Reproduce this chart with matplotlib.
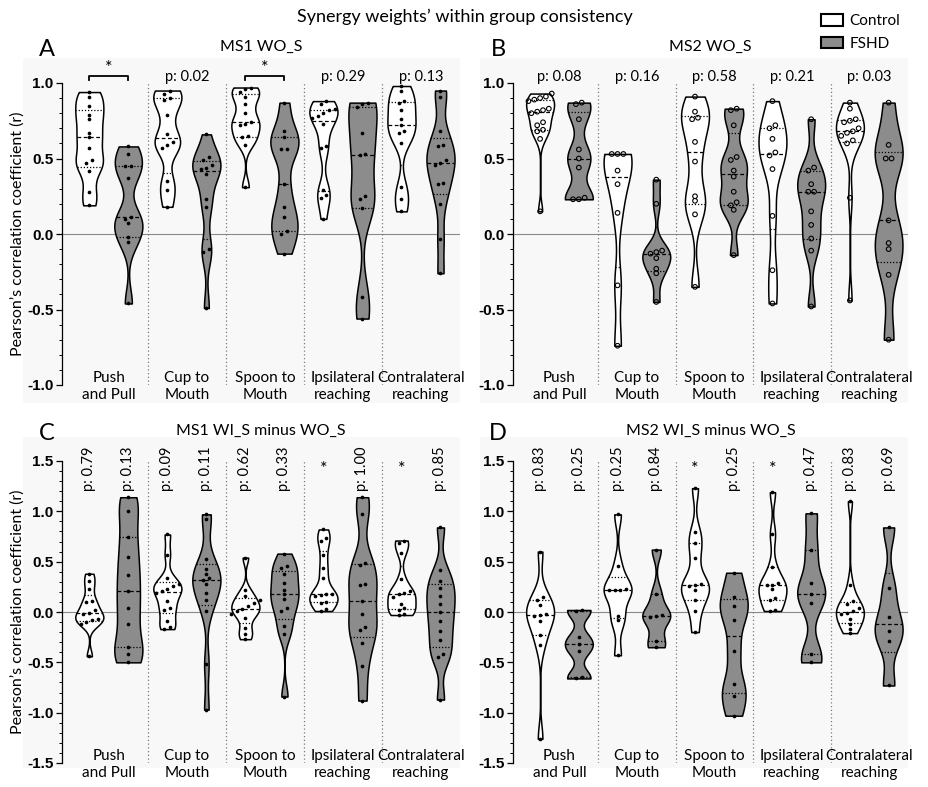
import numpy as np
import matplotlib
matplotlib.use("Agg")
import matplotlib.pyplot as plt
from matplotlib import cbook, mlab
from matplotlib.patches import Rectangle, Patch
from matplotlib.transforms import blended_transform_factory
from matplotlib.ticker import MultipleLocator

plt.rcParams['font.family'] = ['Lato', 'DejaVu Sans']

# ---------------------------------------------------------------- data
tasks = ['Push\nand Pull', 'Cup to\nMouth', 'Spoon to\nMouth',
         'Ipsilateral\nreaching', 'Contralateral\nreaching']

# MS1 without shoulder (r values per subject)
ms1_wo_control = [
    [0.94, 0.91, 0.85, 0.79, 0.76, 0.67, 0.64, 0.57, 0.49, 0.47, 0.42, 0.28, 0.19],
    [0.95, 0.93, 0.90, 0.89, 0.79, 0.66, 0.61, 0.59, 0.57, 0.35, 0.29, 0.18],
    [0.97, 0.96, 0.94, 0.91, 0.86, 0.80, 0.74, 0.73, 0.72, 0.65, 0.64, 0.59, 0.31],
    [0.88, 0.86, 0.83, 0.82, 0.80, 0.78, 0.77, 0.73, 0.58, 0.57, 0.29, 0.26, 0.24, 0.10],
    [0.98, 0.95, 0.88, 0.87, 0.82, 0.76, 0.72, 0.68, 0.67, 0.60, 0.31, 0.23, 0.15],
]
ms1_wo_fshd = [
    [0.58, 0.53, 0.45, 0.45, 0.37, 0.11, 0.10, 0.07, -0.02, -0.05, -0.46],
    [0.66, 0.51, 0.49, 0.46, 0.44, 0.43, 0.40, 0.23, 0.18, -0.10, -0.12, -0.49],
    [0.87, 0.68, 0.64, 0.56, 0.56, 0.33, 0.18, 0.11, 0.02, 0.00, -0.13],
    [0.87, 0.86, 0.84, 0.67, 0.53, 0.52, 0.25, 0.23, 0.17, -0.42, -0.56],
    [0.95, 0.91, 0.68, 0.59, 0.58, 0.49, 0.47, 0.46, 0.34, 0.33, 0.20, -0.03, -0.26],
]
ms1_wo_labels = ['*', 'p: 0.02', '*', 'p: 0.29', 'p: 0.13']

# MS2 without shoulder
ms2_wo_control = [
    [0.93, 0.91, 0.90, 0.89, 0.88, 0.83, 0.82, 0.81, 0.80, 0.74, 0.72, 0.69, 0.68, 0.63, 0.15],
    [0.53, 0.53, 0.53, 0.42, 0.33, 0.14, -0.34, -0.74],
    [0.91, 0.81, 0.77, 0.76, 0.61, 0.48, 0.25, 0.22, 0.13, -0.35],
    [0.88, 0.72, 0.70, 0.63, 0.54, 0.52, 0.43, 0.12, -0.24, -0.46],
    [0.87, 0.83, 0.76, 0.75, 0.74, 0.70, 0.68, 0.67, 0.65, 0.62, 0.60, 0.24, -0.44],
]
ms2_wo_fshd = [
    [0.87, 0.86, 0.76, 0.56, 0.50, 0.44, 0.24, 0.23, 0.23],
    [0.36, 0.20, -0.11, -0.12, -0.13, -0.16, -0.23, -0.26, -0.45],
    [0.83, 0.82, 0.72, 0.51, 0.49, 0.42, 0.38, 0.28, 0.21, 0.19, 0.16, -0.14],
    [0.76, 0.44, 0.42, 0.33, 0.28, 0.28, 0.15, 0.06, -0.03, -0.11, -0.48],
    [0.87, 0.59, 0.50, 0.50, 0.09, -0.06, -0.10, -0.27, -0.70],
]
ms2_wo_labels = ['p: 0.08', 'p: 0.16', 'p: 0.58', 'p: 0.21', 'p: 0.03']

# MS1 with shoulder minus without shoulder
ms1_diff_control = [
    [0.38, 0.31, 0.23, 0.11, 0.10, 0.02, -0.01, -0.02, -0.07, -0.08, -0.10, -0.12, -0.44],
    [0.77, 0.57, 0.34, 0.28, 0.26, 0.23, 0.21, 0.19, 0.11, 0.04, 0.02, -0.09, -0.15, -0.17],
    [0.54, 0.22, 0.16, 0.12, 0.09, 0.06, 0.03, 0.01, -0.02, -0.06, -0.16, -0.22, -0.27],
    [0.82, 0.74, 0.71, 0.57, 0.44, 0.34, 0.18, 0.18, 0.17, 0.16, 0.10, 0.09, 0.03, 0.01],
    [0.71, 0.69, 0.59, 0.33, 0.21, 0.19, 0.18, 0.15, 0.08, 0.04, 0.02, -0.02, -0.03],
]
ms1_diff_fshd = [
    [1.14, 1.00, 0.75, 0.55, 0.37, 0.21, 0.04, -0.12, -0.35, -0.42, -0.50],
    [0.97, 0.92, 0.53, 0.43, 0.38, 0.34, 0.32, 0.28, 0.19, 0.12, 0.01, -0.52, -0.97],
    [0.58, 0.46, 0.44, 0.38, 0.29, 0.22, 0.18, 0.13, 0.04, 0.01, -0.14, -0.22, -0.84],
    [1.14, 0.97, 0.49, 0.47, 0.28, 0.27, 0.11, -0.02, -0.15, -0.18, -0.31, -0.54, -0.88],
    [0.84, 0.42, 0.31, 0.24, 0.16, 0.08, 0.00, -0.09, -0.19, -0.28, -0.42, -0.45, -0.87],
]
ms1_diff_labels_control = ['p: 0.79', 'p: 0.09', 'p: 0.62', '*', '*']
ms1_diff_labels_fshd = ['p: 0.13', 'p: 0.11', 'p: 0.33', 'p: 1.00', 'p: 0.85']

# MS2 with shoulder minus without shoulder
ms2_diff_control = [
    [0.60, 0.15, 0.12, 0.07, -0.02, -0.03, -0.04, -0.09, -0.23, -0.33, -1.26],
    [0.97, 0.46, 0.23, 0.22, 0.22, 0.22, -0.04, -0.08, -0.43],
    [1.23, 0.79, 0.69, 0.54, 0.28, 0.27, 0.26, 0.22, 0.12, 0.01, -0.20],
    [1.19, 0.77, 0.45, 0.29, 0.27, 0.27, 0.23, 0.14, 0.12, 0.02, 0.01],
    [1.10, 0.27, 0.11, 0.08, 0.04, 0.01, -0.01, -0.02, -0.07, -0.12, -0.17, -0.21],
]
ms2_diff_fshd = [
    [0.02, 0.01, -0.25, -0.32, -0.39, -0.65, -0.66],
    [0.62, 0.18, -0.03, -0.04, -0.05, -0.29, -0.35],
    [0.39, 0.15, 0.06, -0.08, -0.39, -0.72, -0.83, -1.03],
    [0.98, 0.62, 0.29, 0.18, 0.09, -0.42, -0.50],
    [0.84, 0.24, -0.05, -0.19, -0.29, -0.73],
]
ms2_diff_labels_control = ['p: 0.83', 'p: 0.25', '*', '*', 'p: 0.83']
ms2_diff_labels_fshd = ['p: 0.25', 'p: 0.84', 'p: 0.25', 'p: 0.47', 'p: 0.69']

# ---------------------------------------------------------------- style
W, H = 929, 787
FSHD_GREY = '#8c8c8c'
PANEL_BG = '#f8f8f8'
VW = 0.36          # violin width (x units)
BW = 0.3           # KDE bandwidth factor
OFF = 0.25         # control / FSHD offset from task centre
TICK_FONT = dict(family=['Liberation Sans', 'DejaVu Sans'], weight='bold', size=11)

fig = plt.figure(figsize=(W / 100, H / 100), dpi=100)


def px_box(x0, y0, x1, y1):
    """Figure-fraction rectangle from pixel corners (top-left origin)."""
    return [x0 / W, 1 - y1 / H, (x1 - x0) / W, (y1 - y0) / H]


def kde(X, coords):
    return mlab.GaussianKDE(np.asarray(X), BW).evaluate(coords)


def spread(values, tol, step):
    """Side-by-side offsets for points whose values nearly coincide."""
    v = np.asarray(values, float)
    order = np.argsort(v)
    off = np.zeros(len(v))
    groups, cur = [], [order[0]]
    for i in order[1:]:
        if v[i] - v[cur[-1]] < tol:
            cur.append(i)
        else:
            groups.append(cur)
            cur = [i]
    groups.append(cur)
    for g in groups:
        k = len(g)
        for j, idx in enumerate(g):
            off[idx] = (j - (k - 1) / 2) * step
    return off


def draw_violin(ax, data, pos, face, hollow, tol):
    stats = cbook.violin_stats([data], kde, points=300)
    parts = ax.violin(stats, positions=[pos], widths=VW, showmeans=False,
                      showextrema=False, showmedians=False)
    body = parts['bodies'][0]
    body.set_facecolor(face)
    body.set_edgecolor('black')
    body.set_linewidth(1.1)
    body.set_alpha(1)
    body.set_zorder(2)
    st = stats[0]
    coords, dens = st['coords'], st['vals']

    def half(y):
        return 0.5 * VW * np.interp(y, coords, dens) / dens.max()

    q1, med, q3 = np.percentile(data, [25, 50, 75], method='weibull')
    for q, dash in ((q1, (1, 1.5)), (med, (3, 2)), (q3, (1, 1.5))):
        h = half(q)
        ax.plot([pos - h, pos + h], [q, q], color='black', lw=0.9,
                dashes=dash, zorder=3)
    xs = pos + spread(data, tol, 0.075)
    if hollow:
        ax.scatter(xs, data, s=11, facecolors='none', edgecolors='black',
                   linewidths=0.8, zorder=4)
    else:
        ax.scatter(xs, data, s=7, color='black', linewidths=0, zorder=4)


def setup_axes(box, lim, major):
    ax = fig.add_axes(px_box(*box))
    ax.patch.set_visible(False)
    ax.set_xlim(-0.6, 4.5)
    ax.set_ylim(-lim, lim)
    for s in ('top', 'right', 'bottom'):
        ax.spines[s].set_visible(False)
    ax.spines['left'].set_linewidth(0.9)
    ax.set_xticks([])
    ax.yaxis.set_minor_locator(MultipleLocator(0.1))
    ax.tick_params(axis='y', which='major', length=4, width=0.9, pad=2)
    ax.tick_params(axis='y', which='minor', length=2, width=0.7)
    ticks = np.arange(-lim, lim + 1e-9, major)
    ax.set_yticks(ticks)
    ax.set_yticklabels([f'{t:.1f}' for t in ticks], fontdict=TICK_FONT)
    ax.axhline(0, color='#8a8a8a', lw=0.8, zorder=1)
    ax.vlines([0.5, 1.5, 2.5, 3.5], -lim, lim, colors='#7a7a7a',
              linestyles=(0, (1, 2)), lw=0.9, zorder=1)
    trans = blended_transform_factory(ax.transData, ax.transAxes)
    for g, name in enumerate(tasks):
        ax.text(g, -0.005, name, transform=trans, ha='center', va='center',
                fontsize=11, linespacing=1.25)
    return ax


def draw_panel(ax, control, fshd, hollow, tol):
    for g in range(len(tasks)):
        draw_violin(ax, control[g], g - OFF, 'white', hollow, tol)
        draw_violin(ax, fshd[g], g + OFF, FSHD_GREY, hollow, tol)


# faint panel backgrounds
for box in [(23, 58, 460, 403), (480, 58, 908, 403),
            (23, 437, 460, 768), (480, 437, 908, 768)]:
    r = px_box(*box)
    fig.add_artist(Rectangle(r[:2], r[2], r[3], transform=fig.transFigure,
                             facecolor=PANEL_BG, edgecolor='none', zorder=-5))

axA = setup_axes((62, 83, 460, 385), 1.0, 0.5)
axB = setup_axes((513, 83, 908, 385), 1.0, 0.5)
axC = setup_axes((62, 461, 460, 763), 1.5, 0.5)
axD = setup_axes((513, 461, 908, 763), 1.5, 0.5)

draw_panel(axA, ms1_wo_control, ms1_wo_fshd, False, 0.025)
draw_panel(axB, ms2_wo_control, ms2_wo_fshd, True, 0.03)
draw_panel(axC, ms1_diff_control, ms1_diff_fshd, False, 0.035)
draw_panel(axD, ms2_diff_control, ms2_diff_fshd, False, 0.035)

# significance labels, top panels
for ax, labels in ((axA, ms1_wo_labels), (axB, ms2_wo_labels)):
    for g, lab in enumerate(labels):
        if lab == '*':
            ax.plot([g - OFF, g - OFF, g + OFF, g + OFF], [1.02, 1.045, 1.045, 1.02],
                    color='black', lw=1.3, clip_on=False)
            ax.text(g, 1.10, '*', ha='center', va='center', fontsize=13,
                    clip_on=False)
        else:
            ax.text(g, 1.04, lab, ha='center', va='center', fontsize=10.5,
                    clip_on=False)

# significance labels, bottom panels (one per violin)
for ax, lc, lf in ((axC, ms1_diff_labels_control, ms1_diff_labels_fshd),
                   (axD, ms2_diff_labels_control, ms2_diff_labels_fshd)):
    for g in range(len(tasks)):
        for pos, lab in ((g - OFF, lc[g]), (g + OFF, lf[g])):
            if lab == '*':
                ax.text(pos, 1.42, '*', ha='center', va='center', fontsize=13)
            else:
                ax.text(pos, 1.2, lab, rotation=90, ha='center', va='bottom',
                        fontsize=10.5)

# panel titles and letters
for ax, title, gap in ((axA, 'MS1 WO_S', 36), (axB, 'MS2 WO_S', 36),
                       (axC, 'MS1 WI_S minus WO_S', 30), (axD, 'MS2 WI_S minus WO_S', 30)):
    bb = ax.get_position()
    fig.text(bb.x0 + bb.width / 2, bb.y1 + gap / H, title,
             ha='center', va='center', fontsize=11.5)
for letter, (x, y) in (('A', (47, 50)), ('B', (498, 50)), ('C', (47, 433)), ('D', (498, 433))):
    fig.text(x / W, 1 - y / H, letter, ha='center', va='center', fontsize=17)

for ax in (axA, axC):
    bb = ax.get_position()
    fig.text(18 / W, bb.y0 + bb.height / 2, 'Pearson\u2019s correlation coefficient (r)',
             rotation=90, ha='center', va='center', fontsize=11.5)

fig.text(465 / W, 1 - 17 / H, 'Synergy weights\u2019 within group consistency',
         ha='center', va='center', fontsize=13)

handles = [Patch(facecolor='white', edgecolor='black', linewidth=1.5, label='Control'),
           Patch(facecolor=FSHD_GREY, edgecolor='black', linewidth=1.5, label='FSHD')]
fig.legend(handles=handles, loc='upper left', bbox_to_anchor=(815 / W, 1 - 8 / H),
           frameon=False, fontsize=11, handlelength=1.45, handleheight=0.8,
           handletextpad=0.4, labelspacing=0.55, borderaxespad=0)

fig.savefig('out.png', dpi=100, facecolor='white')
